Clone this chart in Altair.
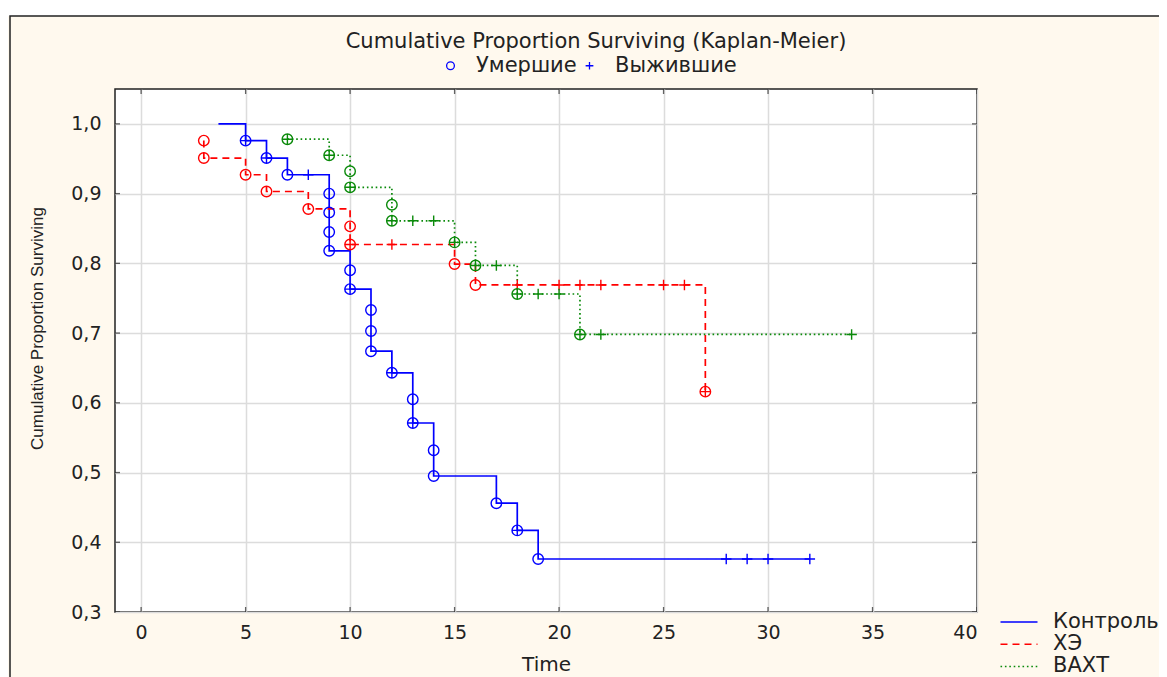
import altair as alt
import pandas as pd

# ---------------- data ----------------
chart_title = "Cumulative Proportion Surviving (Kaplan-Meier)"
series_names = ["Контроль", "ХЭ", "ВАХТ"]
kinds = ["Умершие", "Выжившие"]

# Контроль (blue, solid)
ctrl_start_t, ctrl_start_s = 3.7, 1.0
ctrl_death_t = [5, 6, 7, 9, 9, 9, 9, 10, 10, 11, 11, 11, 12, 13, 13, 14, 14, 17, 18, 19]
ctrl_death_s = [0.976, 0.951, 0.927, 0.900, 0.873, 0.845, 0.818, 0.790, 0.763, 0.733,
                0.703, 0.674, 0.643, 0.605, 0.571, 0.532, 0.495, 0.456, 0.417, 0.376]
ctrl_cens_t = [5, 6, 8, 10, 12, 13, 18, 28, 29, 30, 32]
ctrl_cens_s = [0.976, 0.951, 0.927, 0.763, 0.643, 0.571, 0.417, 0.376, 0.376, 0.376, 0.376]
ctrl_end_t = 32

# ХЭ (red, dashed)
xe_death_t = [3, 3, 5, 6, 8, 10, 10, 15, 16, 27]
xe_death_s = [0.976, 0.951, 0.927, 0.903, 0.878, 0.853, 0.827, 0.799, 0.769, 0.616]
xe_cens_t = [10, 12, 18, 20, 21, 22, 25, 26, 27]
xe_cens_s = [0.827, 0.827, 0.769, 0.769, 0.769, 0.769, 0.769, 0.769, 0.616]
xe_end_t = 27

# ВАХТ (green, dotted)
vaxt_death_t = [7, 9, 10, 10, 12, 12, 15, 16, 18, 21]
vaxt_death_s = [0.978, 0.955, 0.932, 0.909, 0.884, 0.861, 0.830, 0.797, 0.756, 0.698]
vaxt_cens_t = [7, 9, 10, 12, 13, 14, 15, 16, 17, 18, 19, 20, 21, 22, 34]
vaxt_cens_s = [0.978, 0.955, 0.909, 0.861, 0.861, 0.861, 0.830, 0.797, 0.797, 0.756,
               0.756, 0.756, 0.698, 0.698, 0.698]
vaxt_end_t = 34

x_tick_values = [0, 5, 10, 15, 20, 25, 30, 35, 40]
y_tick_values = [0.3, 0.4, 0.5, 0.6, 0.7, 0.8, 0.9, 1.0]

# ---------------- tables ----------------
line_rows = []
point_rows = []


def add_series(name, death_t, death_s, cens_t, cens_s, end_t, start=None):
    seq = []
    if start is not None:
        seq.append(start)
    seq += list(zip(death_t, death_s))
    seq.append((end_t, death_s[-1]))
    for i, (t, s) in enumerate(seq):
        line_rows.append({"series": name, "t": t, "s": s, "idx": i})
    for t, s in zip(death_t, death_s):
        point_rows.append({"series": name, "t": t, "s": s, "kind": kinds[0]})
    for t, s in zip(cens_t, cens_s):
        point_rows.append({"series": name, "t": t, "s": s, "kind": kinds[1]})


add_series(series_names[0], ctrl_death_t, ctrl_death_s, ctrl_cens_t, ctrl_cens_s,
           ctrl_end_t, start=(ctrl_start_t, ctrl_start_s))
add_series(series_names[1], xe_death_t, xe_death_s, xe_cens_t, xe_cens_s, xe_end_t)
add_series(series_names[2], vaxt_death_t, vaxt_death_s, vaxt_cens_t, vaxt_cens_s, vaxt_end_t)

lines_df = pd.DataFrame(line_rows)
points_df = pd.DataFrame(point_rows)
xt_df = pd.DataFrame({"v": x_tick_values})
yt_df = pd.DataFrame({"v": y_tick_values})
title_df = pd.DataFrame({"title": [chart_title]})

# ---------------- styles ----------------
colors = ["#0000ff", "#ff0000", "#0a8a0a"]
dashes = [[1, 0], [7, 5], [1.6, 2.8]]
TEXT = "#222222"
CREAM = "#fff9ee"
FONT = "DejaVu Sans"

W, H = 862, 523
XDOM = [-1.25, 40]
YDOM = [0.3, 1.05]

xscale = alt.Scale(domain=XDOM, nice=False, zero=False)
yscale = alt.Scale(domain=YDOM, nice=False, zero=False)

x_axis = alt.Axis(values=x_tick_values, title="Time", grid=True, gridColor="#dcdcdc",
                  gridWidth=1.5, ticks=False, tickSize=0, domain=False,
                  labelFont=FONT, labelFontSize=19, labelColor=TEXT, labelPadding=11,
                  titleFont=FONT, titleFontSize=20, titleFontWeight="normal",
                  titleColor=TEXT, titlePadding=12)
y_axis = alt.Axis(values=y_tick_values, title="Cumulative Proportion Surviving",
                  grid=True, gridColor="#dcdcdc", gridWidth=1.5, ticks=False, tickSize=0,
                  domain=False,
                  labelExpr="replace(format(datum.value, '.1f'), '.', ',')",
                  labelFont=FONT, labelFontSize=19, labelColor=TEXT, labelPadding=14,
                  titleFont="Liberation Sans", titleFontSize=17, titleFontWeight="normal",
                  titleColor=TEXT, titleX=-78, titleY=239, titleAngle=270,
                  titleAlign="center", titleBaseline="middle")

color_expr = ("datum.series === '{0}' ? '{3}' : datum.series === '{1}' ? '{4}' : '{5}'"
              .format(series_names[0], series_names[1], series_names[2], *colors))

series_legend = alt.Legend(title=None, orient="none", legendX=893, legendY=522,
                           symbolType="M-1.85,0L1.85,0", symbolSize=400,
                           symbolStrokeWidth=1.5,
                           labelFont=FONT, labelFontSize=21, labelColor=TEXT,
                           labelOffset=23, rowPadding=1.2, padding=0)

lines = alt.Chart(lines_df).mark_line(interpolate="step-after", strokeWidth=1.7).encode(
    x=alt.X("t:Q", scale=xscale, axis=x_axis),
    y=alt.Y("s:Q", scale=yscale, axis=y_axis),
    color=alt.Color("series:N", scale=alt.Scale(domain=series_names, range=colors),
                    legend=series_legend),
    strokeDash=alt.StrokeDash("series:N", scale=alt.Scale(domain=series_names, range=dashes),
                              legend=series_legend),
    order=alt.Order("idx:Q"),
)

points = alt.Chart(points_df).transform_calculate(clr=color_expr).mark_point(
    filled=False, size=110, strokeWidth=1.4, opacity=1
).encode(
    x=alt.X("t:Q", scale=xscale),
    y=alt.Y("s:Q", scale=yscale),
    stroke=alt.Stroke("clr:N", scale=None),
    shape=alt.Shape("kind:N",
                    scale=alt.Scale(domain=kinds, range=["circle", "M-1,0L1,0M0,-1L0,1"]),
                    legend=alt.Legend(title=None, orient="none", direction="horizontal",
                                      legendX=325, legendY=-34, symbolSize=60,
                                      symbolStrokeColor="#0000ff", symbolFillColor="transparent",
                                      symbolStrokeWidth=1.3, labelFont=FONT, labelFontSize=21,
                                      labelColor=TEXT, labelOffset=15, columnPadding=2,
                                      padding=0)),
)

title_mark = alt.Chart(title_df).mark_text(
    font=FONT, fontSize=21, color=TEXT, align="center", baseline="middle"
).encode(text="title:N", x=alt.value(481), y=alt.value(-47))

tick_style = dict(clip=True, size=10, thickness=1.3, color="#222222")
ticks_bottom = alt.Chart(xt_df).mark_tick(orient="vertical", **tick_style).encode(
    x=alt.X("v:Q", scale=xscale), y=alt.datum(YDOM[0], scale=yscale))
ticks_top = alt.Chart(xt_df).mark_tick(orient="vertical", **tick_style).encode(
    x=alt.X("v:Q", scale=xscale), y=alt.datum(YDOM[1], scale=yscale))
ticks_left = alt.Chart(yt_df).mark_tick(orient="horizontal", **tick_style).encode(
    y=alt.Y("v:Q", scale=yscale), x=alt.datum(XDOM[0], scale=xscale))
ticks_right = alt.Chart(yt_df).mark_tick(orient="horizontal", **tick_style).encode(
    y=alt.Y("v:Q", scale=yscale), x=alt.datum(XDOM[1], scale=xscale))

# decoration: white strip above the cream panel and the panel's dark frame
white_strip = alt.Chart(title_df).mark_rect(color="white").encode(
    x=alt.value(-120), x2=alt.value(1100), y=alt.value(-90), y2=alt.value(-73))
frame = alt.Chart(title_df).mark_rect(fill=None, stroke="#222222", strokeWidth=1.5).encode(
    x=alt.value(-105), x2=alt.value(1100), y=alt.value(-73), y2=alt.value(700))

chart = alt.layer(
    white_strip, frame, title_mark, lines, points,
    ticks_bottom, ticks_top, ticks_left, ticks_right
).properties(
    width=W, height=H,
    autosize=alt.AutoSizeParams(type="none"),
    padding={"left": 107, "top": 81, "right": 182, "bottom": 66},
    background=CREAM,
).configure_view(fill="white", stroke="#222222", strokeWidth=1.5)

chart.save("out.html", embed_options={"renderer": "svg", "actions": False})
